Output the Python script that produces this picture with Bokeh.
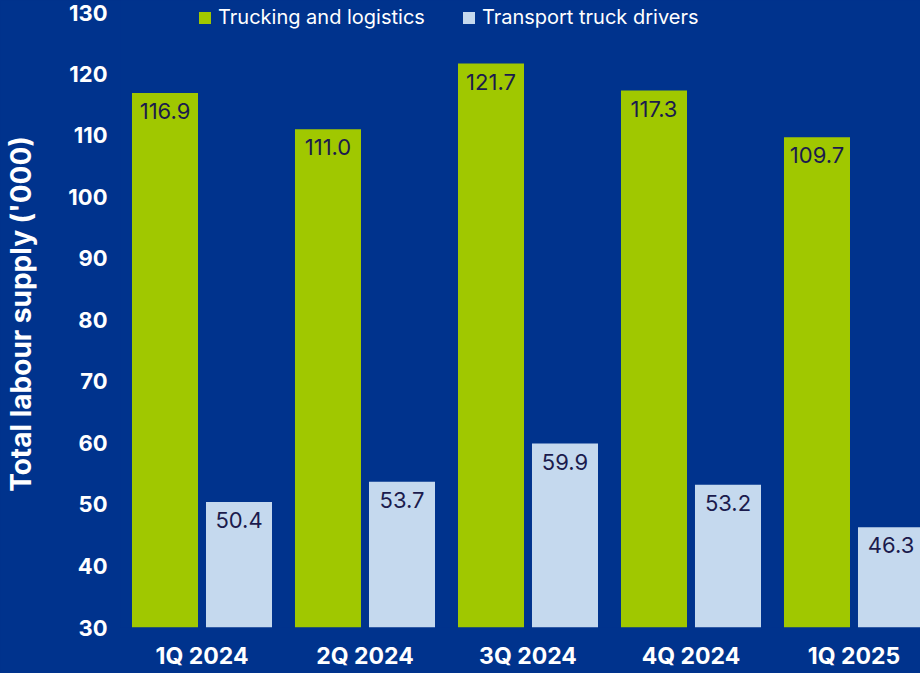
import numpy as np
from bokeh.plotting import figure
from bokeh.models import ColumnDataSource, FixedTicker, Range1d, Legend, LegendItem
from bokeh.core.properties import value
from bokeh.embed import file_html
from bokeh.resources import INLINE

# ---- data ----
quarters = ["1Q 2024", "2Q 2024", "3Q 2024", "4Q 2024", "1Q 2025"]
trucking_logistics = [116.9, 111.0, 121.7, 117.3, 109.7]
truck_drivers = [50.4, 53.7, 59.9, 53.2, 46.3]
series_names = ["Trucking and logistics", "Transport truck drivers"]
y_ticks = [30, 40, 50, 60, 70, 80, 90, 100, 110, 120, 130]
y_title = "Total labour supply ('000)"

BG = "#00338D"
GREEN = "#A0C800"
LIGHT = "#C5D9EE"
DARK_TXT = "#1B1B4D"
FONT = "Inter"

x = np.arange(len(quarters))
off = 0.227
bw = 0.405

src_g = ColumnDataSource(dict(x=x - off, top=trucking_logistics,
                              lbl=[f"{v:.1f}" for v in trucking_logistics]))
src_b = ColumnDataSource(dict(x=x + off, top=truck_drivers,
                              lbl=[f"{v:.1f}" for v in truck_drivers]))

p = figure(width=920, height=673, output_backend="svg", toolbar_location=None,
           x_range=Range1d(-0.5, 4.408), y_range=Range1d(30, 131.95),
           min_border_left=120, min_border_right=0, min_border_top=0,
           min_border_bottom=46, background_fill_color=BG,
           border_fill_color=BG, outline_line_color=None)

r_g = p.vbar(x="x", top="top", bottom=30, width=bw, source=src_g,
             fill_color=GREEN, line_color=None)
r_b = p.vbar(x="x", top="top", bottom=30, width=bw, source=src_b,
             fill_color=LIGHT, line_color=None)

for s in (src_g, src_b):
    p.text(x="x", y="top", text="lbl", source=s, text_align="center",
           text_baseline="top", y_offset=10, text_color=DARK_TXT,
           text_font=value(FONT), text_font_size="22px")

p.grid.visible = False

p.yaxis.ticker = FixedTicker(ticks=y_ticks)
p.yaxis.axis_line_color = None
p.yaxis.major_tick_line_color = None
p.yaxis.minor_tick_line_color = None
p.yaxis.major_tick_out = 0
p.yaxis.major_tick_in = 0
p.yaxis.major_label_standoff = 13
p.yaxis.major_label_text_color = "white"
p.yaxis.major_label_text_font = FONT
p.yaxis.major_label_text_font_style = "bold"
p.yaxis.major_label_text_font_size = "22px"
p.yaxis.axis_label = y_title
p.yaxis.axis_label_standoff = 27
p.yaxis.axis_label_text_color = "white"
p.yaxis.axis_label_text_font = FONT
p.yaxis.axis_label_text_font_style = "bold"
p.yaxis.axis_label_text_font_size = "28px"

p.xaxis.ticker = FixedTicker(ticks=list(x))
p.xaxis.major_label_overrides = {int(i): q for i, q in zip(x, quarters)}
p.xaxis.axis_line_color = None
p.xaxis.major_tick_line_color = None
p.xaxis.minor_tick_line_color = None
p.xaxis.major_tick_out = 0
p.xaxis.major_tick_in = 0
p.xaxis.major_label_standoff = 14
p.xaxis.major_label_text_color = "white"
p.xaxis.major_label_text_font = FONT
p.xaxis.major_label_text_font_style = "bold"
p.xaxis.major_label_text_font_size = "23px"

legend = Legend(items=[LegendItem(label=series_names[0], renderers=[r_g]),
                       LegendItem(label=series_names[1], renderers=[r_b])],
                orientation="horizontal", location=(77, 598),
                background_fill_alpha=0, border_line_color=None,
                padding=0, margin=0, spacing=36, glyph_width=15,
                glyph_height=15, label_standoff=6,
                label_text_color="white", label_text_font=FONT,
                label_text_font_size="20px")
p.add_layout(legend, "center")

html = file_html(p, INLINE)
html = html.replace("</head>", f"<style>html,body{{background:{BG};}}</style></head>", 1)
open("out.html", "w").write(html)
